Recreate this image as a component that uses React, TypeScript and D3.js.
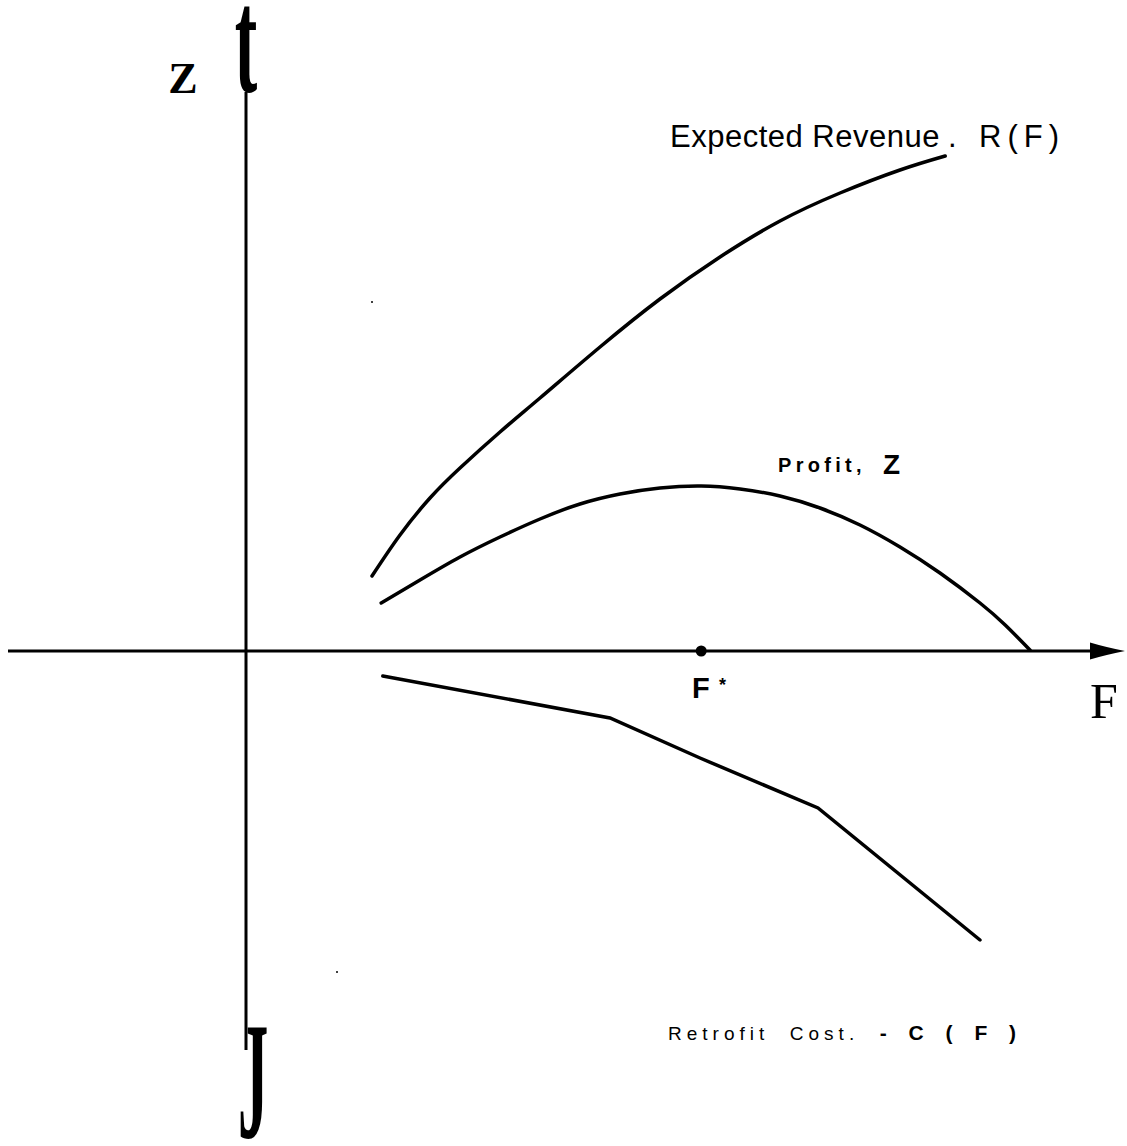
import React from "react";
import * as d3 from "d3";

// Data in abstract units: F along x (0..100), value along y (positive up)
const revenueF = [15.75, 19.25, 23, 26.75, 31.75, 36.75, 44.25, 51.75, 59.25, 66.75, 74.25, 81.75, 87.4];
const revenueV = [15, 23.2, 30.6, 36.6, 43.8, 50.6, 60.8, 70.4, 78.8, 86, 91.6, 96.2, 99];
const profitF = [16.9, 21.75, 26.75, 31.75, 36.75, 41.75, 46.75, 51.75, 56.9, 61.75, 66.75, 71.75, 76.75, 81.75, 86.75, 91.75, 94.9, 98];
const profitV = [9.6, 14.2, 18.8, 22.8, 26.4, 29.4, 31.4, 32.6, 33, 32.4, 31, 28.6, 25.2, 20.8, 15.6, 9.6, 5.2, 0.2];
const costF = [17.1, 45.5, 56.75, 71.5, 91.75];
const costV = [-5, -13.4, -21.4, -31.4, -57.8];
const fStar = 56.9;

const W = 1127;
const H = 1146;

export default function App() {
  const x = d3.scaleLinear().domain([0, 100]).range([246, 1046]);
  const y = d3.scaleLinear().domain([0, 100]).range([651, 151]);

  const curve = d3
    .line<[number, number]>()
    .x((d) => x(d[0]))
    .y((d) => y(d[1]))
    .curve(d3.curveNatural);
  const straight = d3
    .line<[number, number]>()
    .x((d) => x(d[0]))
    .y((d) => y(d[1]));

  const rev = revenueF.map((f, i) => [f, revenueV[i]] as [number, number]);
  const prof = profitF.map((f, i) => [f, profitV[i]] as [number, number]);
  const cost = costF.map((f, i) => [f, costV[i]] as [number, number]);

  const x0 = x(0);
  const y0 = y(0);
  const axisEnd = 1094;

  return (
    <svg
      width={W}
      height={H}
      style={{ position: "absolute", left: 0, top: 0, background: "#fff" }}
    >
      {/* axes */}
      <line x1={8} y1={y0} x2={axisEnd} y2={y0} stroke="#000" strokeWidth={3} />
      <path
        d={`M${axisEnd - 4},${y0 - 8.5} Q1105,${y0 - 4} 1125,${y0} Q1105,${y0 + 4} ${axisEnd - 4},${y0 + 8.5} Z`}
        fill="#000"
      />
      <line x1={x0} y1={92} x2={x0} y2={1050} stroke="#000" strokeWidth={3} />

      {/* curves */}
      <path d={curve(rev) || ""} fill="none" stroke="#000" strokeWidth={3.5} strokeLinecap="round" />
      <path d={curve(prof) || ""} fill="none" stroke="#000" strokeWidth={3.5} strokeLinecap="round" />
      <path d={straight(cost) || ""} fill="none" stroke="#000" strokeWidth={3.5} strokeLinecap="round" />

      <circle cx={x(fStar)} cy={y0} r={5.5} fill="#000" />

      {/* axis letters */}
      <text
        x={183}
        y={93}
        fontFamily="Liberation Serif"
        fontWeight="bold"
        fontSize={44}
        textAnchor="middle"
      >
        Z
      </text>
      <text
        transform={`translate(${x0},92) scale(0.45,1)`}
        fontFamily="Liberation Serif"
        fontWeight="bold"
        fontSize={150}
        textAnchor="middle"
      >
        t
      </text>
      <text
        transform={`translate(253,1137) scale(0.36,1)`}
        fontFamily="Liberation Serif"
        fontWeight="bold"
        fontSize={168}
        textAnchor="middle"
      >
        J
      </text>
      <text
        x={1104}
        y={718}
        fontFamily="Liberation Serif"
        fontSize={50}
        textAnchor="middle"
      >
        F
      </text>

      {/* labels */}
      <text
        x={692}
        y={698}
        fontFamily="Liberation Sans"
        fontWeight="bold"
        fontSize={29}
      >
        F
      </text>
      <text
        x={719}
        y={691}
        fontFamily="Liberation Sans"
        fontWeight="bold"
        fontSize={18}
      >
        *
      </text>
      <text
        x={778}
        y={472}
        fontFamily="Liberation Sans"
        fontWeight="bold"
        fontSize={20}
        letterSpacing={4.3}
      >
        Profit,
      </text>
      <text
        x={883}
        y={474}
        fontFamily="Liberation Sans"
        fontWeight="bold"
        fontSize={28}
      >
        Z
      </text>
      <text x={670} y={147} fontFamily="Liberation Sans" fontSize={31} letterSpacing={0.5}>
        Expected Revenue
      </text>
      <text x={948} y={147} fontFamily="Liberation Sans" fontSize={31}>
        .
      </text>
      <text x={979} y={147} fontFamily="Liberation Sans" fontSize={31} letterSpacing={6}>
        R(F)
      </text>
      <text
        x={668}
        y={1040}
        fontFamily="Liberation Sans"
        fontSize={19}
        letterSpacing={5}
      >
        Retrofit{"\u00a0\u00a0"}Cost.{"\u00a0\u00a0"}
        <tspan fontWeight="bold" fontSize={21} letterSpacing={8}>
          - C ( F )
        </tspan>
      </text>

      {/* specks */}
      <circle cx={372} cy={302} r={1} fill="#000" />
      <circle cx={337} cy={972} r={1} fill="#000" />
    </svg>
  );
}
